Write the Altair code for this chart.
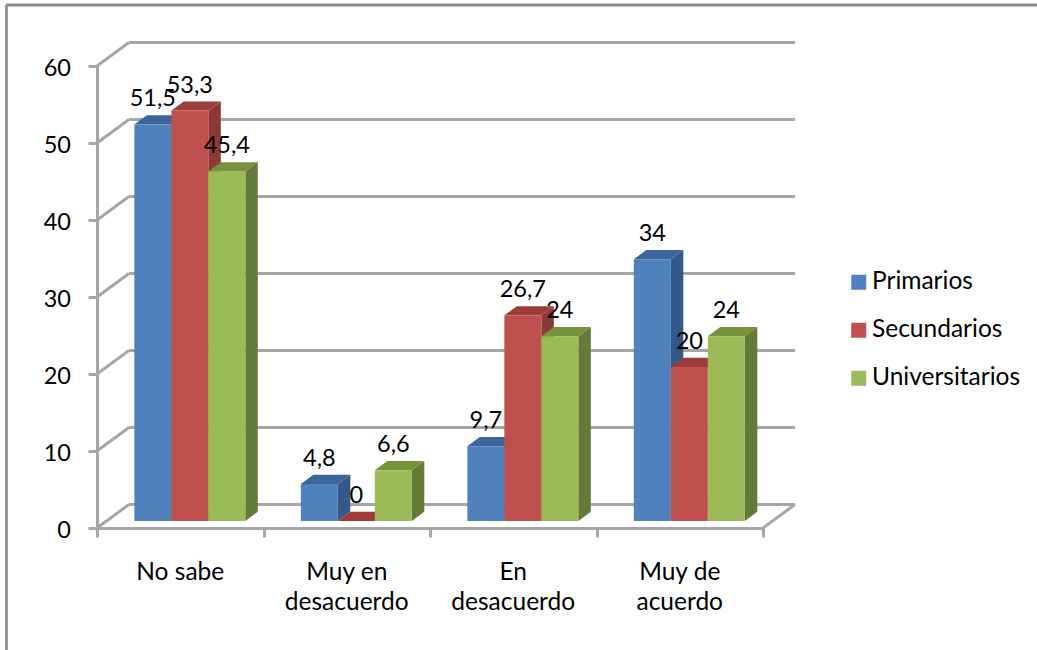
import altair as alt
import pandas as pd

# Survey shares by education level
categories = ["No sabe", "Muy en desacuerdo", "En desacuerdo", "Muy de acuerdo"]
category_lines = [["No sabe"], ["Muy en", "desacuerdo"], ["En", "desacuerdo"], ["Muy de", "acuerdo"]]
series_names = ["Primarios", "Secundarios", "Universitarios"]
primarios = [51.5, 4.8, 9.7, 34]
secundarios = [53.3, 0, 26.7, 20]
universitarios = [45.4, 6.6, 24, 24]
y_ticks = [0, 10, 20, 30, 40, 50, 60]
x_ticks = [0, 1, 2, 3, 4]

front_colors = ["#4f81bd", "#c0504d", "#9bbb59"]
side_colors = ["#34588a", "#8c3836", "#647a38"]
top_colors = ["#3b659b", "#9e3c39", "#76923c"]
GRID = "#a6a6a6"
LINE = 3
FONT = "Lato"
NUM_SIZE = 23.5
TEXT_SIZE = 24.5

# Oblique projection, expressed in data units of the two axes
WALL_DX = 0.192
WALL_DY = 3.05
BAR_WIDTH = 1 / 4.5
BAR_START = 0.75 * BAR_WIDTH
BAR_DEPTH = 0.39   # share of the floor depth taken by a bar
BAR_FRONT = 0.30   # where the bars' front faces sit on the floor

x_scale = alt.Scale(domain=[0, 4], nice=False, zero=False)
y_scale = alt.Scale(domain=[0, 60], nice=False, zero=False)
x_axis = alt.Axis(values=x_ticks, labels=False, tickSize=9, tickColor=GRID, tickWidth=LINE,
                  domainColor=GRID, domainWidth=LINE, grid=False, title=None)
y_axis = alt.Axis(values=y_ticks, tickSize=9, tickColor=GRID, tickWidth=LINE, domainColor=GRID,
                  domainWidth=LINE, grid=False, title=None, labelFont=FONT,
                  labelFontSize=NUM_SIZE, labelColor="#000000", labelPadding=17.5,
                  labelOffset=2)

rows = []
for s, values in enumerate([primarios, secundarios, universitarios]):
    for c, v in enumerate(values):
        x0 = c + BAR_START + s * BAR_WIDTH + BAR_FRONT * WALL_DX
        base = BAR_FRONT * WALL_DY
        rows.append({
            "serie": series_names[s], "s": s, "cat": categories[c],
            "value": v, "label": str(v).replace(".", ","),
            "x0": x0, "x1": x0 + BAR_WIDTH, "xm": x0 + BAR_WIDTH / 2,
            "xd": x0 + BAR_WIDTH + BAR_DEPTH * WALL_DX,
            "xt": x0 + BAR_DEPTH * WALL_DX,
            "yb": base, "yt": base + v,
            "ybd": base + BAR_DEPTH * WALL_DY,
            "ytd": base + v + BAR_DEPTH * WALL_DY,
        })
bars = pd.DataFrame(rows)


def X(field):
    return alt.X(f"{field}:Q", scale=x_scale, axis=x_axis)


def Y(field):
    return alt.Y(f"{field}:Q", scale=y_scale, axis=y_axis)


# Back wall lines and the diagonals that tie them to the value axis
walls = pd.DataFrame({"v": y_ticks})
walls["vb"] = walls["v"] + WALL_DY
walls["x0"] = 0.0
walls["xb"] = WALL_DX
walls["xe"] = 4 + WALL_DX

back_lines = alt.Chart(walls).mark_rule(color=GRID, strokeWidth=LINE).encode(
    x=X("xb"), x2="xe:Q", y=Y("vb"))
diagonals = alt.Chart(walls).mark_rule(color=GRID, strokeWidth=LINE).encode(
    x=X("x0"), x2="xb:Q", y=Y("v"), y2="vb:Q")

floor = pd.DataFrame({"xa": [4.0], "xz": [4 + WALL_DX], "ya": [0.0], "yz": [WALL_DY]})
floor_edge = alt.Chart(floor).mark_rule(color=GRID, strokeWidth=LINE).encode(
    x=X("xa"), x2="xz:Q", y=Y("ya"), y2="yz:Q")

# Each series paints side, top and front so the later series overlaps the earlier one
bar_layers = []
for s, name in enumerate(series_names):
    part = bars[bars["s"] == s]
    side_rows = []
    top_rows = []
    for i, r in enumerate(part.itertuples()):
        side_rows += [
            {"id": i, "x": r.x1, "y": r.yt, "y2": r.yb},
            {"id": i, "x": r.xd, "y": r.ytd, "y2": r.ybd},
        ]
        top_rows += [
            {"id": i, "y": r.yt, "x": r.x0, "x2": r.x1},
            {"id": i, "y": r.ytd, "x": r.xt, "x2": r.xd},
        ]
    side = alt.Chart(pd.DataFrame(side_rows)).mark_area(
        color=side_colors[s], orient="vertical", line=False).encode(
        x=X("x"), y=Y("y"), y2="y2:Q", detail="id:N")
    top = alt.Chart(pd.DataFrame(top_rows)).mark_area(
        color=top_colors[s], orient="horizontal", line=False).encode(
        y=Y("y"), x=X("x"), x2="x2:Q", detail="id:N")
    front = alt.Chart(part).mark_rect().encode(
        x=X("x0"), x2="x1:Q", y=Y("yb"), y2="yt:Q",
        color=alt.Color("serie:N", scale=alt.Scale(domain=series_names, range=front_colors),
                        legend=alt.Legend(
                            title=None, orient="none", legendX=749.5, legendY=204,
                            symbolType="square", symbolSize=225, symbolStrokeWidth=0,
                            symbolOpacity=1, labelFont=FONT, labelFontSize=TEXT_SIZE,
                            labelColor="#000000", labelOffset=1, rowPadding=23, padding=0)),
    )
    bar_layers += [side, top, front]

value_labels = alt.Chart(bars).mark_text(
    font=FONT, fontSize=NUM_SIZE, color="#000000", dy=-25, baseline="middle", align="center"
).encode(x=X("xm"), y=Y("yt"), text="label:N")

# Category captions sit under the axis, one text row per wrapped line
caption_rows = []
for c, lines in enumerate(category_lines):
    for n, line in enumerate(lines):
        caption_rows.append({"xc": c + 0.5, "line": line, "n": n})
captions = pd.DataFrame(caption_rows)
caption_marks = [
    alt.Chart(captions[captions["n"] == n]).mark_text(
        font=FONT, fontSize=TEXT_SIZE, color="#000000", baseline="middle", align="center"
    ).encode(x=X("xc"), y=alt.value(row_y), text="line:N")
    for n, row_y in enumerate([507, 537])
]

# Frame of the chart object: only its top and left edges are present
frame_top = alt.Chart(pd.DataFrame({"k": [0]})).mark_rule(color="#8c8c8c", strokeWidth=3).encode(
    x=alt.value(-91), x2=alt.value(940), y=alt.value(-61))
frame_left = alt.Chart(pd.DataFrame({"k": [0]})).mark_rule(color="#999999", strokeWidth=3).encode(
    x=alt.value(-90.5), y=alt.value(-61), y2=alt.value(584))

chart = alt.layer(
    frame_top, frame_left, back_lines, diagonals, floor_edge,
    *bar_layers, value_labels, *caption_marks,
).resolve_scale(y="shared", x="shared").properties(
    width=666,
    height=462,
    padding={"left": 97, "top": 66, "right": 274, "bottom": 122},
    autosize=alt.AutoSizeParams(type="none"),
    background="#ffffff",
).configure_view(stroke=None)

chart.save("out.html", embed_options={"renderer": "svg", "actions": False})
